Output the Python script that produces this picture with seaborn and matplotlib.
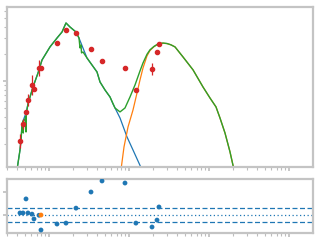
import numpy as np
import pandas as pd
import matplotlib
matplotlib.use("Agg")
import matplotlib.pyplot as plt
import seaborn as sns
from matplotlib.ticker import LogLocator, NullFormatter, FixedLocator

sns.set_style("white")

# ---- data ----
# observed points (top panel)
obs_x = [0.434, 0.473, 0.516, 0.546, 0.613, 0.649, 0.750, 0.794, 1.259, 1.631,
         2.175, 3.35, 4.60, 8.91, 12.2, 19.4, 22.4, 23.7]
obs_y = [0.215, 0.333, 0.453, 0.615, 0.903, 0.815, 1.39, 1.39, 2.64, 3.69,
         3.41, 2.27, 1.67, 1.39, 0.794, 1.36, 2.10, 2.58]
obs_err_dex = [0.078, 0.056, 0.02, 0.067, 0.11, 0.02, 0.089, 0.02, 0.02, 0.02,
               0.02, 0.02, 0.02, 0.02, 0.02, 0.067, 0.02, 0.02]

# component 1 (blue)
c1_x = [0.398, 0.434, 0.447, 0.460, 0.473, 0.516, 0.546, 0.579, 0.631, 0.729, 0.818,
        1.029, 1.259, 1.454, 1.631, 1.83, 2.175, 2.371, 2.985, 3.981, 4.341,
        5.012, 5.79, 6.31, 7.72, 9.44, 11.22, 14.54]
c1_y = [0.103, 0.171, 0.221, 0.324, 0.359, 0.441, 0.556, 0.664, 0.858, 1.227, 1.71,
        2.39, 3.00, 3.50, 4.41, 3.98, 3.50, 3.00, 1.80, 1.259, 0.975,
        0.794, 0.664, 0.556, 0.388, 0.239, 0.171, 0.103]

# component 2 (orange)
c2_x = [7.94, 8.66, 9.72, 11.22, 12.59, 13.72, 14.96, 16.79, 18.3, 20.5, 22.4,
        24.4, 26.6, 29.85, 33.5, 37.6, 47.3, 63.1, 84.1, 102.9, 122.3, 137.2,
        158.5, 183.0, 205.4]
c2_y = [0.103, 0.185, 0.308, 0.476, 0.735, 1.026, 1.394, 1.90, 2.18, 2.40, 2.53,
        2.60, 2.63, 2.60, 2.52, 2.39, 1.85, 1.33, 0.858, 0.647, 0.515, 0.388,
        0.264, 0.163, 0.103]

# total model (green)
tot_x = [0.398, 0.434, 0.447, 0.460, 0.473, 0.477, 0.481, 0.512, 0.516, 0.519, 0.546,
         0.579, 0.631, 0.729, 0.818, 1.029, 1.259, 1.454, 1.631, 1.83, 2.175,
         2.371, 2.44, 2.512, 2.55, 2.661, 2.985, 3.981, 4.341, 5.012, 5.79,
         6.68, 7.72, 8.91, 10.29, 11.89, 13.72, 14.96, 16.79, 18.3, 20.5, 22.4,
         24.4, 26.6, 29.85, 33.5, 37.6, 47.3, 63.1, 84.1, 102.9, 122.3, 137.2,
         158.5, 183.0, 205.4]
tot_y = [0.103, 0.171, 0.221, 0.324, 0.359, 0.264, 0.350, 0.398, 0.271, 0.419, 0.556,
         0.664, 0.858, 1.227, 1.71, 2.39, 3.00, 3.50, 4.41, 3.98, 3.50,
         3.00, 2.33, 2.51, 2.05, 2.10, 1.80, 1.259, 0.975, 0.794, 0.664,
         0.501, 0.453, 0.501, 0.664, 0.903, 1.291, 1.585, 1.98, 2.22, 2.42, 2.54,
         2.61, 2.64, 2.61, 2.52, 2.39, 1.85, 1.33, 0.858, 0.647, 0.515, 0.388,
         0.264, 0.163, 0.103]

# residuals (bottom panel)
res_x = [0.434, 0.473, 0.516, 0.546, 0.613, 0.649, 0.750, 0.794, 0.794, 1.259,
         1.631, 2.175, 3.35, 4.60, 8.91, 12.2, 19.4, 22.4, 23.7]
res_y = [0.09, 0.09, 0.70, 0.09, 0.04, -0.17, -0.01, 0.0, -0.65, -0.39,
         -0.35, 0.30, 1.0, 1.48, 1.39, -0.35, -0.52, -0.22, 0.35]
res_group = ["fit"] * 7 + ["excluded"] + ["fit"] * 11
res_band = [-0.3, 0.3]

# ---- figure ----
fig = plt.figure(figsize=(3.2, 2.4), dpi=100)
ax = fig.add_axes([7/320, 1 - 167/240, 306/320, 160/240])
axr = fig.add_axes([7/320, 1 - 233/240, 306/320, 54/240])

blue, orange, green, red = "#1f77b4", "#ff7f0e", "#2ca02c", "#d62728"

sns.lineplot(x=c1_x, y=c1_y, ax=ax, color=blue, lw=0.9, sort=False, estimator=None)
sns.lineplot(x=c2_x, y=c2_y, ax=ax, color=orange, lw=0.9, sort=False, estimator=None)
sns.lineplot(x=tot_x, y=tot_y, ax=ax, color=green, lw=1.0, sort=False, estimator=None)

oy = np.array(obs_y)
oe = np.array(obs_err_dex)
lo = oy - oy * 10 ** (-oe)
hi = oy * 10 ** oe - oy
ax.errorbar(obs_x, obs_y, yerr=[lo, hi], fmt="o", color=red, ms=3.0, lw=0.9,
            capsize=0, zorder=5)

ax.set_xscale("log")
ax.set_yscale("log")
ax.set_xlim(10 ** -0.525, 10 ** 3.3)
ax.set_ylim(10 ** -0.956, 10 ** 0.822)

df_res = pd.DataFrame({"x": res_x, "y": res_y, "g": res_group})
sns.scatterplot(data=df_res, x="x", y="y", hue="g", palette={"fit": blue, "excluded": orange},
                ax=axr, s=12, linewidth=0, legend=False, zorder=5)
for b in res_band:
    axr.axhline(b, color=blue, ls=(0, (4, 2)), lw=0.9)
axr.axhline(0, color=blue, ls=(0, (1, 2)), lw=0.9)
axr.set_xscale("log")
axr.set_xlim(10 ** -0.525, 10 ** 3.3)
axr.set_ylim(-0.78, 1.565)
axr.yaxis.set_major_locator(FixedLocator([0, 1]))

for a in (ax, axr):
    a.set_xlabel("")
    a.set_ylabel("")
    for s in a.spines.values():
        s.set_visible(True)
        s.set_color("#c4c4c4")
        s.set_linewidth(1.6)
    a.xaxis.set_major_locator(LogLocator(base=10, numticks=10))
    a.xaxis.set_minor_locator(LogLocator(base=10, subs=np.arange(2, 10), numticks=20))
    a.tick_params(which="major", length=3, width=1.2, color="#bdbdbd", direction="out",
                  labelbottom=False, labelleft=False, bottom=True, left=True)
    a.tick_params(which="minor", length=2, width=0.8, color="#bdbdbd", direction="out",
                  bottom=True, left=True)
    a.xaxis.set_minor_formatter(NullFormatter())
    a.yaxis.set_minor_formatter(NullFormatter())

ax.yaxis.set_major_locator(LogLocator(base=10, numticks=10))
ax.yaxis.set_minor_locator(LogLocator(base=10, subs=np.arange(2, 10), numticks=20))

fig.savefig("out.png", dpi=100)
